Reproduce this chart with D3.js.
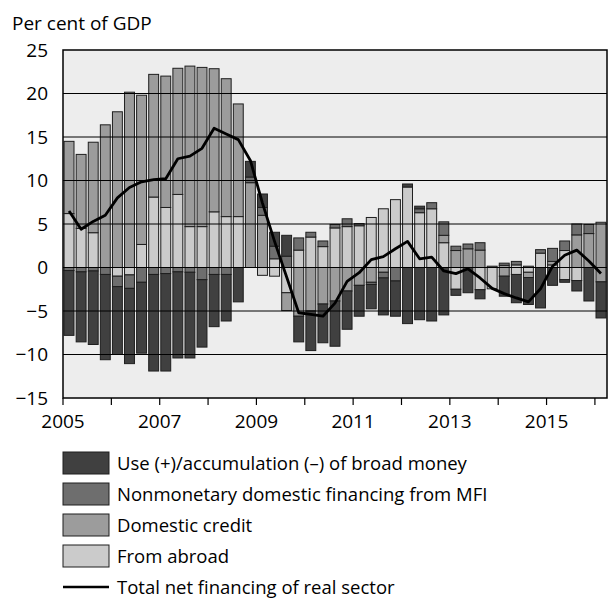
<!DOCTYPE html>
<html>
<head>
<meta charset="utf-8">
<script src="https://cdn.jsdelivr.net/npm/d3@7"></script>
<style>
  body { margin: 0; background: #fff; }
  svg { display: block; font-family: "Open Sans", sans-serif; }
</style>
</head>
<body>
<svg></svg>
<script>
var width = 608;
var height = 598;

// quarters 2005Q1 .. 2016Q1
var quarters = d3.range(45).map(function(i) { return 2005 + i / 4; });

// per cent of GDP, split into the part above and below zero
var abroadPos  = [6.2, 4.5, 4.0, 0, 0, 0, 2.65, 8.1, 6.9, 8.4, 4.7, 4.7, 6.4, 5.85, 5.85, 0, 0, 1.0, 0, 2.0, 3.5, 2.4, 4.55, 4.7, 4.8, 5.75, 6.75, 7.8, 9.25, 6.3, 6.75, 2.85, 0, 0, 0, 0, 0, 0.3, 0, 1.65, 0.3, 1.95, 0, 0, 0];
var abroadNeg  = [0, 0, 0, 0, -1.0, -0.85, 0, 0, 0, 0, 0, 0, 0, 0, 0, 0, -0.9, -1.0, -2.9, 0, 0, 0, 0, 0, 0, 0, 0, 0, 0, 0, 0, 0, -2.5, 0, -2.55, -2.45, 0, -0.8, -0.55, 0, 0, -1.4, -1.5, 0, 0];
var creditPos  = [8.3, 8.5, 10.4, 16.4, 17.9, 20.15, 17.15, 14.1, 15.1, 14.5, 18.45, 18.3, 16.45, 15.85, 12.95, 9.75, 6.0, 0, 0, 0, 0, 0, 0, 0, 0, 0, 0, 0, 0, 0, 0, 0.85, 1.95, 2.15, 2.0, 0, 0.25, 0, 0, 0, 0.4, 0, 3.75, 3.9, 5.2];
var creditNeg  = [0, 0, 0, 0, 0, 0, 0, 0, 0, 0, 0, 0, 0, 0, 0, 0, 0, 0, -2.05, -5.6, -5.0, -4.2, -3.85, -2.7, -2.05, -1.7, -0.55, 0, 0, 0, 0, 0, 0, 0, 0, 0, -1.0, 0, -0.6, 0, 0, 0, 0, 0, -1.65];
var nonmonPos  = [0, 0, 0, 0, 0, 0, 0, 0, 0, 0, 0, 0, 0, 0, 0, 0.65, 0.9, 1.45, 1.3, 1.4, 0.55, 0.65, 0.4, 0.9, 0.25, 0, 0, 0, 0, 0.45, 0.7, 1.55, 0.5, 0.55, 0.85, 0.15, 0.25, 0.4, 0.15, 0.4, 1.5, 1.1, 1.25, 1.05, 0];
var nonmonNeg  = [-0.35, -0.5, -0.4, -0.8, -1.2, -1.55, -1.7, -0.8, -0.7, -0.5, -0.55, -1.4, -0.8, -0.8, 0, 0, 0, 0, 0, 0, 0, 0, 0, 0, 0, -0.25, -0.65, -1.55, 0, 0, 0, 0, 0, 0, 0, 0, 0, 0, 0, 0, 0, 0, 0, 0, 0];
var moneyPos   = [0, 0, 0, 0, 0, 0, 0, 0, 0, 0, 0, 0, 0, 0, 0, 1.8, 1.55, 1.6, 2.4, 0, 0, 0, 0, 0, 0, 0, 0, 0, 0.35, 0.3, 0, 0, 0, 0, 0, 0, 0, 0, 0, 0, 0, 0, 0, 0, 0];
var moneyNeg   = [-7.45, -8.05, -8.45, -9.8, -7.8, -8.65, -8.15, -11.1, -11.2, -9.9, -9.85, -7.75, -6.0, -5.35, -3.95, 0, 0, 0, 0, -2.95, -4.55, -4.45, -5.2, -4.4, -3.55, -2.8, -4.25, -4.05, -6.45, -6.0, -6.15, -5.45, -0.7, -2.9, -1.05, 0, -2.3, -3.25, -3.1, -4.65, -2.05, -0.3, -1.2, -3.85, -4.15];
var totalNet   = [6.5, 4.4, 5.3, 6.0, 8.0, 9.2, 9.85, 10.1, 10.2, 12.5, 12.8, 13.7, 16.0, 15.35, 14.7, 12.3, 7.4, 3.0, -1.1, -5.2, -5.4, -5.6, -4.1, -1.6, -0.6, 0.9, 1.25, 2.15, 3.0, 1.0, 1.2, -0.4, -0.7, -0.15, -1.2, -2.4, -3.0, -3.5, -3.95, -2.45, 0.15, 1.4, 2.0, 0.75, -0.7];

var yTicks = [-15, -10, -5, 0, 5, 10, 15, 20, 25];
var yearTicks = d3.range(2005, 2017);
var yearLabels = [2005, 2007, 2009, 2011, 2013, 2015];

var legendItems = [
  { label: "Use (+)/accumulation (\u2013) of broad money", color: "#404040" },
  { label: "Nonmonetary domestic financing from MFI", color: "#6e6e6e" },
  { label: "Domestic credit", color: "#9c9c9c" },
  { label: "From abroad", color: "#cbcbcb" },
  { label: "Total net financing of real sector", line: true }
];

var colors = {
  abroadPos: "#cbcbcb", abroadNeg: "#cbcbcb",
  creditPos: "#9c9c9c", creditNeg: "#9c9c9c",
  nonmonPos: "#6e6e6e", nonmonNeg: "#6e6e6e",
  moneyPos: "#404040", moneyNeg: "#404040"
};
var keys = ["abroadPos", "abroadNeg", "creditPos", "creditNeg", "nonmonPos", "nonmonNeg", "moneyPos", "moneyNeg"];

var table = quarters.map(function(q, i) {
  return {
    q: q,
    abroadPos: abroadPos[i], abroadNeg: abroadNeg[i],
    creditPos: creditPos[i], creditNeg: creditNeg[i],
    nonmonPos: nonmonPos[i], nonmonNeg: nonmonNeg[i],
    moneyPos: moneyPos[i], moneyNeg: moneyNeg[i]
  };
});

var stacked = d3.stack()
                .keys(keys)
                .offset(d3.stackOffsetDiverging)(table);

var plotL = 63, plotR = 607, plotT = 50, plotB = 398;

var svg = d3.select('svg')
            .attr('width', width)
            .attr('height', height);

var x = d3.scaleLinear()
          .domain([2005, 2016.25])
          .range([plotL, plotR]);

var y = d3.scaleLinear()
          .domain([-15, 25])
          .range([plotB, plotT]);

var step = x(2005.25) - x(2005);
var barW = step * 0.82;

svg.append("rect")
   .attr("x", plotL).attr("y", plotT)
   .attr("width", plotR - plotL).attr("height", plotB - plotT)
   .attr("fill", "#ededed");

// bars
svg.append("g")
   .selectAll("g")
   .data(stacked)
   .enter()
   .append("g")
   .attr("fill", function(s) { return colors[s.key]; })
   .selectAll("rect")
   .data(function(s) { return s.filter(function(d) { return d[1] !== d[0]; }); })
   .enter()
   .append("rect")
   .attr("x", function(d) { return x(d.data.q + 0.125) - barW / 2; })
   .attr("y", function(d) { return y(d[1]); })
   .attr("width", barW)
   .attr("height", function(d) { return y(d[0]) - y(d[1]); })
   .attr("stroke", "#1e1e1e")
   .attr("stroke-width", 1);

// grid lines over the bars
svg.append("g")
   .selectAll("line")
   .data(yTicks.filter(function(t) { return t > -15 && t < 25; }))
   .enter()
   .append("line")
   .attr("x1", plotL).attr("x2", plotR)
   .attr("y1", function(d) { return y(d); })
   .attr("y2", function(d) { return y(d); })
   .attr("stroke", "#000")
   .attr("stroke-width", 1);

// total line
var line = d3.line()
             .x(function(d, i) { return x(quarters[i] + 0.125); })
             .y(function(d) { return y(d); });

svg.append("path")
   .datum(totalNet)
   .attr("d", line)
   .attr("fill", "none")
   .attr("stroke", "#000")
   .attr("stroke-width", 2.8)
   .attr("stroke-linejoin", "round");

// frame
svg.append("rect")
   .attr("x", plotL).attr("y", plotT)
   .attr("width", plotR - plotL).attr("height", plotB - plotT)
   .attr("fill", "none")
   .attr("stroke", "#000")
   .attr("stroke-width", 1.5);

// y labels
svg.append("g")
   .selectAll("text")
   .data(yTicks)
   .enter()
   .append("text")
   .attr("x", 48)
   .attr("y", function(d) { return y(d); })
   .attr("dy", "0.36em")
   .attr("text-anchor", "end")
   .attr("font-size", 19)
   .text(function(d) { return d < 0 ? "\u2212" + Math.abs(d) : d; });

// x ticks + labels
svg.append("g")
   .selectAll("line")
   .data(yearTicks)
   .enter()
   .append("line")
   .attr("x1", function(d) { return x(d); })
   .attr("x2", function(d) { return x(d); })
   .attr("y1", plotB).attr("y2", plotB + 7)
   .attr("stroke", "#000")
   .attr("stroke-width", 1.2);

svg.append("g")
   .selectAll("text")
   .data(yearLabels)
   .enter()
   .append("text")
   .attr("x", function(d) { return x(d); })
   .attr("y", 428)
   .attr("text-anchor", "middle")
   .attr("font-size", 19)
   .text(function(d) { return d; });

svg.append("text")
   .attr("x", 12)
   .attr("y", 30)
   .attr("font-size", 19)
   .text("Per cent of GDP");

// legend
var legend = svg.append("g")
                .selectAll("g")
                .data(legendItems)
                .enter()
                .append("g")
                .attr("transform", function(d, i) { return "translate(63," + (463 + i * 31) + ")"; });

legend.filter(function(d) { return !d.line; })
      .append("rect")
      .attr("x", 0).attr("y", -11)
      .attr("width", 46).attr("height", 22)
      .attr("fill", function(d) { return d.color; })
      .attr("stroke", "#1e1e1e");

legend.filter(function(d) { return d.line; })
      .append("line")
      .attr("x1", 0).attr("x2", 46)
      .attr("stroke", "#000")
      .attr("stroke-width", 2.5);

legend.append("text")
      .attr("x", 54)
      .attr("dy", "0.36em")
      .attr("font-size", 18.5)
      .text(function(d) { return d.label; });
</script>
</body>
</html>
